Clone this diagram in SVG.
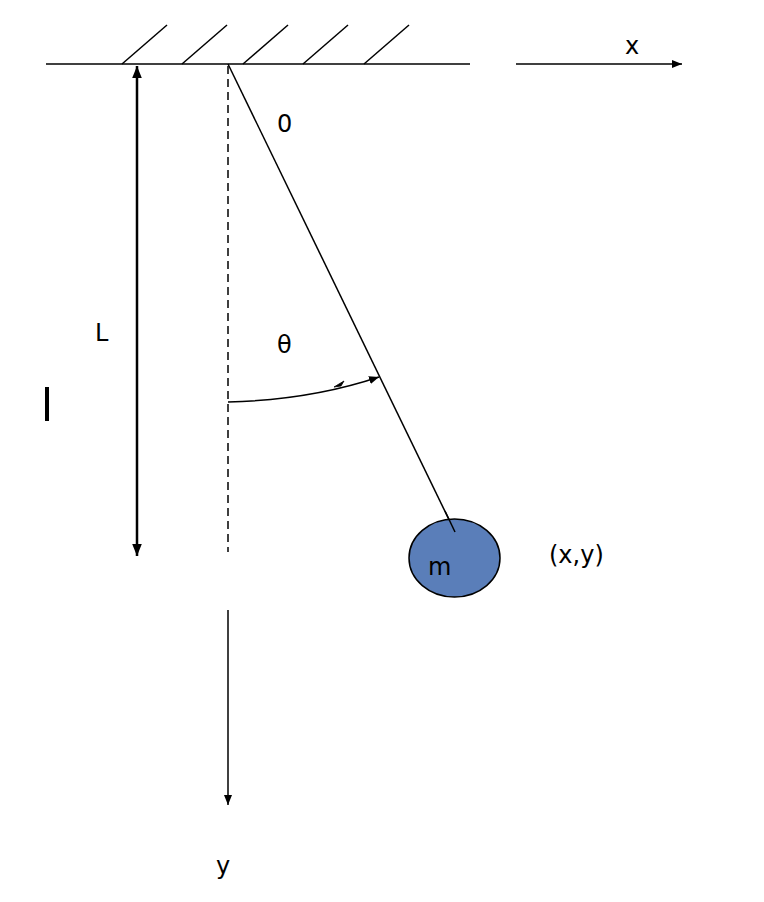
<svg xmlns="http://www.w3.org/2000/svg" width="764" height="902" viewBox="0 0 764 902">
<style>
.ln{stroke:#000;stroke-width:1.5;fill:none}
.t{font-family:"DejaVu Sans","Liberation Sans",sans-serif;font-size:24px;fill:#000}
</style>
<defs>
<marker id="ah" viewBox="0 0 10 10" refX="10" refY="5" markerWidth="10" markerHeight="10" markerUnits="userSpaceOnUse" orient="auto-start-reverse">
<path d="M0,1 L10,5 L0,9 Z" fill="#000"/>
</marker>
<marker id="ahb" viewBox="0 0 10 10" refX="10" refY="5" markerWidth="12" markerHeight="12" markerUnits="userSpaceOnUse" orient="auto-start-reverse">
<path d="M0,1 L10,5 L0,9 Z" fill="#000"/>
</marker>
</defs>
<rect width="764" height="902" fill="#fff"/>
<g id="ceiling">
<line class="ln" x1="46" y1="64" x2="470" y2="64"/>
<line class="ln" x1="122" y1="64" x2="167" y2="25"/>
<line class="ln" x1="182" y1="64" x2="227" y2="25"/>
<line class="ln" x1="243" y1="64" x2="288" y2="25"/>
<line class="ln" x1="303" y1="64" x2="348" y2="25"/>
<line class="ln" x1="364" y1="64" x2="409" y2="25"/>
</g>
<g id="connectors">
<line class="ln" x1="228" y1="66" x2="228" y2="552" stroke-dasharray="8,5"/>
<line class="ln" x1="228" y1="64" x2="455" y2="532"/>
<line x1="137" y1="66" x2="137" y2="556" stroke="#000" stroke-width="2.5" marker-start="url(#ahb)" marker-end="url(#ahb)"/>
<line class="ln" x1="516" y1="64" x2="682" y2="64" marker-end="url(#ah)"/>
<line class="ln" x1="228" y1="610" x2="228" y2="805" marker-end="url(#ah)"/>
<path class="ln" d="M228,402 Q310,400 379,377" marker-end="url(#ah)"/>
<path d="M334,387 L344,381 L341,386 Z" fill="#000" stroke="#000" stroke-width="0.8"/>
</g>
<g id="mass">
<ellipse cx="454.5" cy="558" rx="45.5" ry="39" fill="#5A7EB9" stroke="#000" stroke-width="1.5"/>
<line class="ln" x1="445" y1="511" x2="455" y2="532"/>
<text class="t" x="428" y="575">m</text>
</g>
<rect x="45" y="387" width="4" height="34" fill="#000"/>
<text class="t" x="277" y="132">0</text>
<text class="t" x="277" y="353">θ</text>
<text class="t" x="95" y="341">L</text>
<text class="t" x="549" y="563">(x,y)</text>
<text class="t" x="625" y="54">x</text>
<text class="t" x="216" y="874">y</text>
</svg>
